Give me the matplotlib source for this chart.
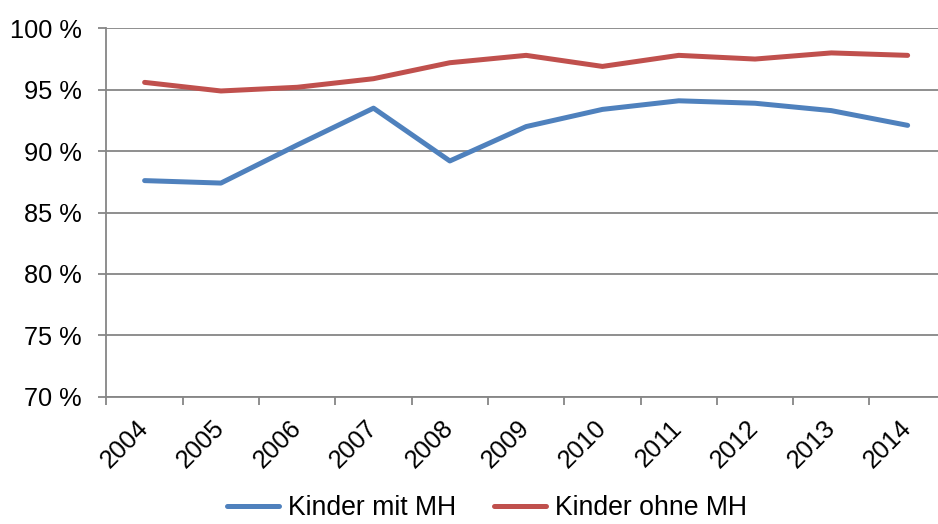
import matplotlib
matplotlib.use("Agg")
import matplotlib.pyplot as plt
import numpy as np

plt.rcParams['font.family'] = ['Liberation Sans', 'DejaVu Sans']

years = ["2004", "2005", "2006", "2007", "2008", "2009", "2010", "2011", "2012", "2013", "2014"]
mit_mh = [87.6, 87.4, 90.5, 93.5, 89.2, 92.0, 93.4, 94.1, 93.9, 93.3, 92.1]
ohne_mh = [95.6, 94.9, 95.2, 95.9, 97.2, 97.8, 96.9, 97.8, 97.5, 98.0, 97.8]
y_ticks = [70, 75, 80, 85, 90, 95, 100]
y_labels = ["70 %", "75 %", "80 %", "85 %", "90 %", "95 %", "100 %"]

blue = "#4F81BD"
red = "#C0504D"
grey = "#868686"

fig = plt.figure(figsize=(9.38, 5.24), dpi=100)
ax = fig.add_axes([0.1135, 0.2429, 0.8948, 0.703])

x = np.arange(len(years))
ax.plot(x, mit_mh, color=blue, lw=3.6, solid_capstyle='round', solid_joinstyle='round',
        label="Kinder mit MH", zorder=3)
ax.plot(x, ohne_mh, color=red, lw=3.6, solid_capstyle='round', solid_joinstyle='round',
        label="Kinder ohne MH", zorder=3)

ax.set_xlim(-0.5, len(years) - 0.5)
ax.set_ylim(70, 100)
ax.set_yticks(y_ticks)
ax.set_yticklabels(y_labels, fontsize=18.3)
ax.yaxis.grid(True, color=grey, lw=1.3)
ax.set_axisbelow(True)

ax.set_xticks(x)
ax.set_xticklabels(years, fontsize=18.3, rotation=45, ha='right', va='center',
                   rotation_mode='anchor')
ax.set_xticks(np.arange(-0.5, len(years)), minor=True)
ax.tick_params(axis='x', which='major', length=0, pad=20)
ax.tick_params(axis='x', which='minor', length=6, width=1.3, color=grey)
ax.tick_params(axis='y', length=6, width=1.3, color=grey, pad=12)

for s in ['top', 'right']:
    ax.spines[s].set_visible(False)
for s in ['left', 'bottom']:
    ax.spines[s].set_color(grey)
    ax.spines[s].set_linewidth(1.3)

fig.legend(loc='center', bbox_to_anchor=(0.519, 0.03), ncol=2, frameon=False,
           fontsize=19.2, handlelength=1.95, handletextpad=0.34, columnspacing=1.4,
           borderpad=0.1)

fig.savefig("out.png", dpi=100)
